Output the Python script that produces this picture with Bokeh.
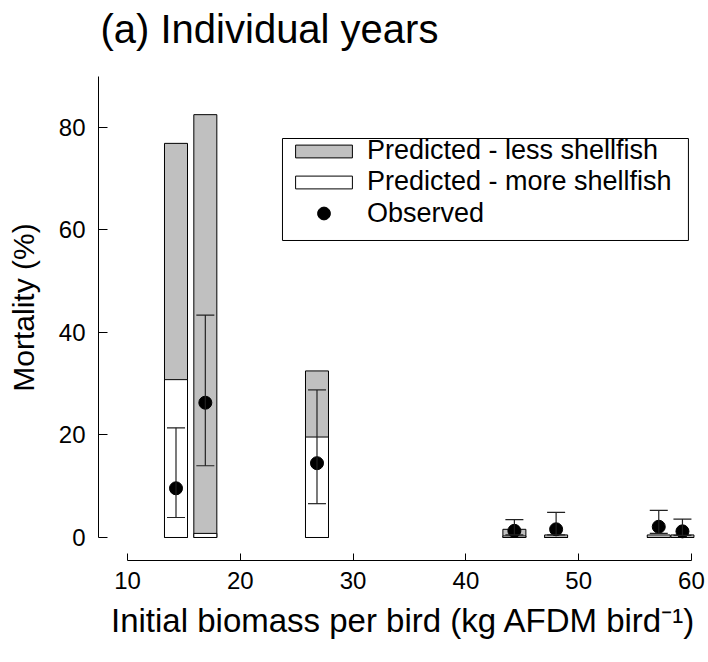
from bokeh.plotting import figure
from bokeh.models import (ColumnDataSource, Legend, LegendItem, Whisker, TeeHead,
                          FixedTicker, BoxAnnotation)
from bokeh.embed import file_html
from bokeh.resources import INLINE

# ---- data ----
biomass = [14.3, 16.9, 26.8, 44.3, 48.0, 57.1, 59.2]
pred_less = [76.9, 82.5, 32.5, 1.6, 0.5, 0.5, 0.5]
pred_more = [30.8, 0.8, 19.6, 0.3, 0.0, 0.0, 0.0]
observed = [9.6, 26.3, 14.5, 1.3, 1.6, 2.1, 1.2]
obs_upper = [21.4, 43.4, 28.8, 3.5, 4.9, 5.3, 3.6]
obs_lower = [3.9, 14.0, 6.6, 0.5, 0.5, 0.8, 0.4]
x_ticks = [10, 20, 30, 40, 50, 60]
y_ticks = [0, 20, 40, 60, 80]

src = ColumnDataSource(dict(x=biomass, less=pred_less, more=pred_more,
                            obs=observed, upper=obs_upper, lower=obs_lower))

FONT = "Liberation Sans"

p = figure(width=708, height=662, x_range=(7.429, 61.51), y_range=(-4.488, 94.24),
           output_backend="svg", toolbar_location=None,
           min_border_left=98, min_border_right=0, min_border_top=0,
           min_border_bottom=102, title="(a) Individual years")
p.outline_line_color = None
p.grid.visible = False
p.background_fill_color = "white"
p.border_fill_color = "white"

p.title.text_font = FONT
p.title.text_font_size = "40px"
p.title.text_font_style = "normal"
p.title.text_color = "black"
p.title.align = "left"
p.title.offset = 2
p.title.standoff = 8

bar_w = 2.04
r_less = p.vbar(x="x", top="less", bottom=0, width=bar_w, source=src,
                fill_color="#c0c0c0", line_color="black", line_width=1)
r_more = p.vbar(x="x", top="more", bottom=0, width=bar_w, source=src,
                fill_color="white", line_color="black", line_width=1)

wh = Whisker(source=src, base="x", upper="upper", lower="lower",
             line_color="#222222", line_width=1.2, level="glyph",
             upper_head=TeeHead(size=18, line_color="#222222", line_width=1.2),
             lower_head=TeeHead(size=18, line_color="#222222", line_width=1.2))
p.add_layout(wh)

r_obs = p.scatter(x="x", y="obs", source=src, size=13, fill_color="black",
                  line_color="black")

# axes
for ax in (p.xaxis[0], p.yaxis[0]):
    ax.axis_line_color = "black"
    ax.axis_line_width = 1
    ax.major_tick_line_color = "black"
    ax.minor_tick_line_color = None
    ax.major_tick_out = 0
    ax.major_label_text_font = FONT
    ax.major_label_text_font_size = "24px"
    ax.major_label_text_color = "black"
    ax.axis_label_text_font = FONT
    ax.axis_label_text_font_style = "normal"
    ax.axis_label_text_color = "black"

p.xaxis.bounds = (10, 60)
p.xaxis.ticker = FixedTicker(ticks=x_ticks)
p.xaxis.major_tick_in = 7
p.xaxis.major_label_standoff = 11
p.xaxis.axis_label = "Initial biomass per bird (kg AFDM bird\u207b\u00b9)"
p.xaxis.axis_label_text_font_size = "33px"
p.xaxis.axis_label_standoff = 10

p.yaxis.bounds = (0, 90)
p.yaxis.ticker = FixedTicker(ticks=y_ticks)
p.yaxis.major_tick_in = 9
p.yaxis.major_label_standoff = 13
p.yaxis.axis_label = "Mortality (%)"
p.yaxis.axis_label_text_font_size = "30px"
p.yaxis.axis_label_standoff = 16

# legend frame (data-space box behind the legend entries)
box = BoxAnnotation(left=23.74, right=59.73, top=77.85, bottom=57.95,
                    fill_color="white", fill_alpha=1.0,
                    line_color="black", line_width=1, line_alpha=1.0)
p.add_layout(box)


def style_legend(lg, gh):
    lg.label_text_font = FONT
    lg.label_text_font_size = "27px"
    lg.label_text_color = "black"
    lg.border_line_color = None
    lg.background_fill_alpha = 0
    lg.padding = 0
    lg.spacing = 0
    lg.margin = 0
    lg.glyph_width = 71
    lg.glyph_height = gh
    lg.label_height = 31
    lg.label_standoff = 8


leg_bars = Legend(items=[
    LegendItem(label="Predicted - less shellfish", renderers=[r_less]),
    LegendItem(label="Predicted - more shellfish", renderers=[r_more]),
], location=(190, 363))
style_legend(leg_bars, 16)
p.add_layout(leg_bars)

leg_obs = Legend(items=[
    LegendItem(label="Observed", renderers=[r_obs]),
], location=(190, 331))
style_legend(leg_obs, 32)
p.add_layout(leg_obs)

open("out.html", "w").write(file_html(p, INLINE))
